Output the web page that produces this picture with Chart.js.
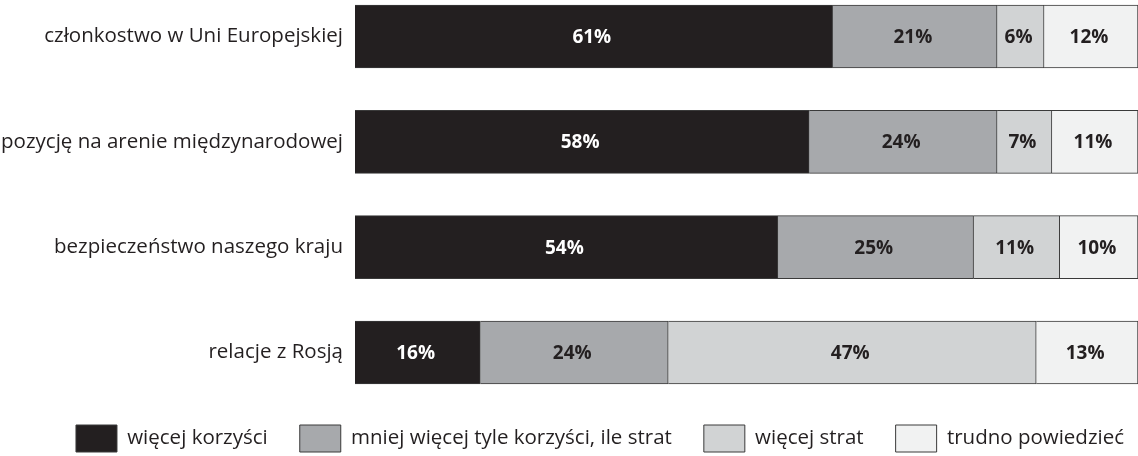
<!DOCTYPE html>
<html>
<head>
<meta charset="utf-8">
<script src="https://cdn.jsdelivr.net/npm/chart.js@4/dist/chart.umd.min.js"></script>
<style>
  html, body { margin: 0; padding: 0; background: #fff; overflow: hidden; }
  #wrap { width: 1138px; height: 456px; }
</style>
</head>
<body>
<div id="wrap"><canvas id="wykres"></canvas></div>
<script>
// dane z wykresu
const kategorie = ['członkostwo w Uni Europejskiej', 'pozycję na arenie międzynarodowej', 'bezpieczeństwo naszego kraju', 'relacje z Rosją'];
const wiecejKorzysci = [61, 58, 54, 16];
const tyleSamo = [21, 24, 25, 24];
const wiecejStrat = [6, 7, 11, 47];
const trudnoPowiedziec = [12, 11, 10, 13];

const FONT = 'Open Sans';
const CIEMNY = '#231f20';

// etykiety z procentami w środku słupków
const etykiety = {
  id: 'etykiety',
  afterDatasetsDraw(chart) {
    const ctx = chart.ctx;
    ctx.save();
    ctx.font = 'bold 19px "' + FONT + '"';
    ctx.textAlign = 'center';
    ctx.textBaseline = 'middle';
    chart.data.datasets.forEach((ds, i) => {
      chart.getDatasetMeta(i).data.forEach((bar, j) => {
        const p = bar.getCenterPoint();
        ctx.fillStyle = i === 0 ? '#fff' : CIEMNY;
        ctx.fillText(ds.data[j] + '%', p.x - 2, p.y + 1);
      });
    });
    ctx.restore();
  }
};

// legenda przesunięta trochę w prawo (jak w oryginale)
const przesunLegende = {
  id: 'przesunLegende',
  afterLayout(chart) {
    if (chart.legend) {
      chart.legend.left += 22;
      chart.legend.right += 40;
    }
  }
};

const wspolne = { borderColor: '#3a3a3a', borderWidth: 1, barThickness: 63, clip: false };

new Chart(document.getElementById('wykres'), {
  type: 'bar',
  data: {
    labels: kategorie,
    datasets: [
      { label: 'więcej korzyści', data: wiecejKorzysci, backgroundColor: CIEMNY, ...wspolne },
      { label: 'mniej więcej tyle korzyści, ile strat', data: tyleSamo, backgroundColor: '#a7a9ac', ...wspolne },
      { label: 'więcej strat', data: wiecejStrat, backgroundColor: '#d1d3d4', ...wspolne },
      { label: 'trudno powiedzieć', data: trudnoPowiedziec, backgroundColor: '#f1f2f2', ...wspolne }
    ]
  },
  options: {
    indexAxis: 'y',
    responsive: true,
    maintainAspectRatio: false,
    animation: false,
    layout: { padding: { left: 0, top: 36.5, right: 0, bottom: -6 } },
    scales: {
      x: {
        stacked: true, min: 0, max: 100,
        ticks: { display: false },
        grid: { display: false, drawTicks: false },
        border: { display: false },
        afterFit: s => { s.height = 40.5; }
      },
      y: {
        stacked: true, offset: false,
        grid: { display: false, drawTicks: false },
        border: { display: false },
        ticks: { color: CIEMNY, padding: 12, font: { family: FONT, size: 20.5 } },
        afterFit: s => { s.width = 355; }
      }
    },
    plugins: {
      legend: {
        position: 'bottom',
        labels: {
          boxWidth: 41, boxHeight: 27, padding: 32, color: CIEMNY,
          font: { family: FONT, size: 20.5 }
        }
      },
      tooltip: { enabled: false }
    }
  },
  plugins: [etykiety, przesunLegende]
});
</script>
</body>
</html>
